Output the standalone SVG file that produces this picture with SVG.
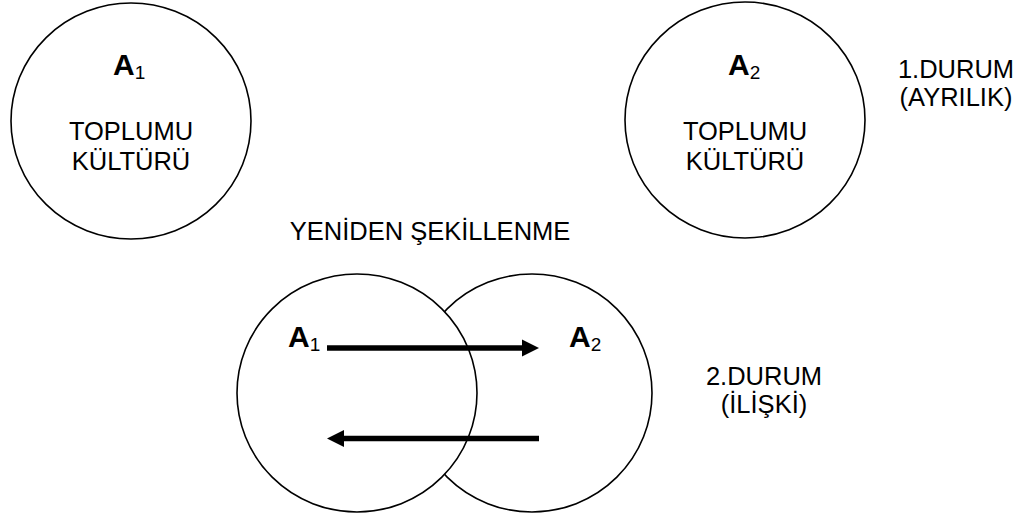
<svg xmlns="http://www.w3.org/2000/svg" width="1021" height="517" viewBox="0 0 1021 517">
  <style>
    .circ { fill: #fff; stroke: #000; stroke-width: 1.6; }
    .t { font-family: "Liberation Sans", Arial, sans-serif; font-size: 25.5px; fill: #000; text-anchor: middle; }
    .lab { font-family: "Liberation Sans", Arial, sans-serif; fill: #000; }
    .big { font-size: 30px; font-weight: bold; }
    .sub { font-size: 19px; }
    .arrow { fill: none; stroke: #000; stroke-width: 5.5; }
  </style>
  <defs>
    <marker id="head" markerUnits="userSpaceOnUse" markerWidth="18" markerHeight="18" refX="0" refY="8.5" orient="auto" overflow="visible">
      <path d="M0,0 L17,8.5 L0,17 Z" fill="#000"/>
    </marker>
  </defs>
  <rect width="1021" height="517" fill="#fff"/>

  <g id="node-a1-top">
    <ellipse class="circ" cx="131" cy="121" rx="120" ry="118"/>
    <text class="lab" x="113" y="75"><tspan class="big">A</tspan><tspan class="sub" dy="4">1</tspan></text>
    <text class="t" x="131" y="140">TOPLUMU</text>
    <text class="t" x="131" y="170">KÜLTÜRÜ</text>
  </g>

  <g id="node-a2-top">
    <ellipse class="circ" cx="745" cy="120" rx="120" ry="118"/>
    <text class="lab" x="728" y="75"><tspan class="big">A</tspan><tspan class="sub" dy="4">2</tspan></text>
    <text class="t" x="745" y="140">TOPLUMU</text>
    <text class="t" x="745" y="170">KÜLTÜRÜ</text>
  </g>

  <g id="label-durum1">
    <text class="t" x="956" y="78">1.DURUM</text>
    <text class="t" x="956" y="106">(AYRILIK)</text>
  </g>

  <g id="label-yeniden">
    <text class="t" x="430" y="240">YENİDEN ŞEKİLLENME</text>
  </g>

  <g id="node-a2-bottom">
    <ellipse class="circ" cx="532" cy="393" rx="120" ry="119"/>
    <text class="lab" x="569" y="347"><tspan class="big">A</tspan><tspan class="sub" dy="4">2</tspan></text>
  </g>

  <g id="node-a1-bottom">
    <ellipse class="circ" cx="357" cy="393" rx="120" ry="119"/>
    <text class="lab" x="288" y="347"><tspan class="big">A</tspan><tspan class="sub" dy="4">1</tspan></text>
  </g>

  <g id="label-durum2">
    <text class="t" x="764" y="385">2.DURUM</text>
    <text class="t" x="764" y="413">(İLİŞKİ)</text>
  </g>

  <g id="connectors">
    <path class="arrow" d="M327,348 L522,348" marker-end="url(#head)"/>
    <path class="arrow" d="M539,438.5 L344,438.5" marker-end="url(#head)"/>
  </g>
</svg>
